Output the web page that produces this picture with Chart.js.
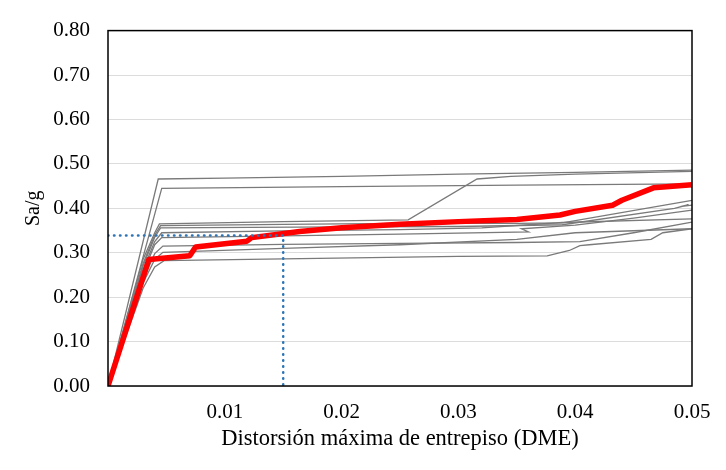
<!DOCTYPE html>
<html>
<head>
<meta charset="utf-8">
<script src="https://cdn.jsdelivr.net/npm/chart.js@4/dist/chart.umd.min.js"></script>
<style>
  html, body { margin: 0; padding: 0; background: #fff; }
  #wrap { width: 726px; height: 470px; }
</style>
</head>
<body>
<div id="wrap"><canvas id="myChart_ida"></canvas></div>
<script>
// tick labels
var xTickLabels = ['', '0.01', '0.02', '0.03', '0.04', '0.05'];
var yTickLabels = ['0.00', '0.10', '0.20', '0.30', '0.40', '0.50', '0.60', '0.70', '0.80'];

// curva media (roja)
var redX = [0, 0.0035, 0.0070, 0.0075, 0.0119, 0.0123, 0.0164, 0.020, 0.025, 0.030, 0.035, 0.0387, 0.040, 0.0432, 0.0440, 0.0467, 0.050];
var redY = [0, 0.285, 0.293, 0.313, 0.326, 0.334, 0.348, 0.356, 0.364, 0.370, 0.375, 0.385, 0.393, 0.407, 0.418, 0.446, 0.453];

// punto de desempeno (linea punteada)
var markX = [0, 0.015, 0.015];
var markY = [0.339, 0.339, 0];

// registros individuales (gris) [x, y]
var gray1 = [[0,0],[0.0043,0.466],[0.01,0.468],[0.02,0.472],[0.03,0.477],[0.04,0.481],[0.05,0.486]];
var gray2 = [[0,0],[0.0046,0.445],[0.02,0.449],[0.035,0.452],[0.05,0.455]];
var gray3 = [[0,0],[0.0030,0.285],[0.0040,0.345],[0.0044,0.365],[0.015,0.370],[0.0257,0.374],[0.0316,0.466],[0.0345,0.472],[0.040,0.477],[0.050,0.483]];
var gray4 = [[0,0],[0.0030,0.275],[0.0040,0.340],[0.0045,0.361],[0.015,0.364],[0.025,0.366],[0.035,0.366],[0.0389,0.367],[0.050,0.418]];
var gray5 = [[0,0],[0.0030,0.270],[0.0040,0.335],[0.0045,0.356],[0.020,0.358],[0.030,0.359],[0.0389,0.363],[0.0485,0.400],[0.0497,0.408],[0.0490,0.404],[0.050,0.407]];
var gray6 = [[0,0],[0.0030,0.262],[0.0040,0.325],[0.0046,0.345],[0.015,0.349],[0.025,0.352],[0.032,0.356],[0.0389,0.368],[0.050,0.376]];
var gray7 = [[0,0],[0.0030,0.255],[0.0040,0.318],[0.0046,0.334],[0.015,0.338],[0.025,0.342],[0.0360,0.347],[0.0354,0.354],[0.040,0.362],[0.045,0.378],[0.050,0.396]];
var gray8 = [[0,0],[0.0030,0.240],[0.0040,0.298],[0.0047,0.315],[0.015,0.319],[0.025,0.321],[0.035,0.323],[0.0404,0.325],[0.045,0.345],[0.050,0.369]];
var gray9 = [[0,0],[0.0030,0.232],[0.0040,0.285],[0.0047,0.301],[0.015,0.310],[0.025,0.318],[0.035,0.330],[0.040,0.345],[0.050,0.354]];
var gray10 = [[0,0],[0.0030,0.220],[0.0040,0.268],[0.0048,0.282],[0.015,0.286],[0.030,0.292],[0.0376,0.293],[0.0395,0.305],[0.0404,0.316],[0.0412,0.318],[0.0465,0.330],[0.0475,0.345],[0.050,0.354]];

function toPoints(xs, ys) {
  return xs.map(function (x, i) { return { x: x, y: ys[i] }; });
}
function pairs(arr) {
  return arr.map(function (p) { return { x: p[0], y: p[1] }; });
}

var grays = [gray1, gray2, gray3, gray4, gray5, gray6, gray7, gray8, gray9, gray10];

var datasets = [
  {
    data: toPoints(markX, markY),
    borderColor: '#2e75b6',
    borderWidth: 2.5,
    borderDash: [0.5, 5.5],
    borderCapStyle: 'round',
    order: 0
  },
  {
    data: toPoints(redX, redY),
    borderColor: '#ff0000',
    borderWidth: 5.5,
    borderJoinStyle: 'round',
    order: 1
  }
];
grays.forEach(function (g) {
  datasets.push({
    data: pairs(g),
    borderColor: '#7a7a7a',
    borderWidth: 1.3,
    order: 2
  });
});

var frame = {
  id: 'frame',
  afterDraw: function (chart) {
    var a = chart.chartArea, c = chart.ctx;
    c.save();
    c.strokeStyle = '#000';
    c.lineWidth = 1.5;
    c.strokeRect(a.left, a.top, a.right - a.left, a.bottom - a.top);
    c.restore();
  }
};

var ctx = document.getElementById('myChart_ida');
var myChart = new Chart(ctx, {
  type: 'scatter',
  data: { datasets: datasets },
  options: {
    responsive: true,
    maintainAspectRatio: false,
    animation: false,
    showLine: true,
    elements: {
      point: { radius: 0, hoverRadius: 0 },
      line: { tension: 0, fill: false }
    },
    layout: { padding: { left: 0, top: 20, right: 34, bottom: 0 } },
    plugins: {
      legend: { display: false },
      tooltip: { enabled: false }
    },
    scales: {
      x: {
        type: 'linear',
        min: 0,
        max: 0.05,
        afterFit: function (s) { s.height = 84; },
        grid: { display: false, drawTicks: false },
        border: { display: false },
        ticks: {
          stepSize: 0.01,
          padding: 14,
          color: '#000',
          font: { family: 'Liberation Serif', size: 21 },
          callback: function (v, i) { return xTickLabels[i]; }
        },
        title: {
          display: true,
          text: 'Distorsión máxima de entrepiso (DME)',
          color: '#000',
          font: { family: 'Liberation Serif', size: 22.5 },
          padding: { top: 0, bottom: 17 }
        }
      },
      y: {
        type: 'linear',
        min: 0,
        max: 0.8,
        afterFit: function (s) { s.width = 108; },
        grid: { color: '#dcdcdc', lineWidth: 1, drawTicks: false },
        border: { display: false },
        ticks: {
          stepSize: 0.1,
          padding: 18,
          color: '#000',
          font: { family: 'Liberation Serif', size: 21 },
          callback: function (v, i) { return yTickLabels[i]; }
        },
        title: {
          display: true,
          text: 'Sa/g',
          color: '#000',
          font: { family: 'Liberation Serif', size: 20 },
          padding: { top: 22, bottom: 0 }
        }
      }
    }
  },
  plugins: [frame]
});
</script>
</body>
</html>
